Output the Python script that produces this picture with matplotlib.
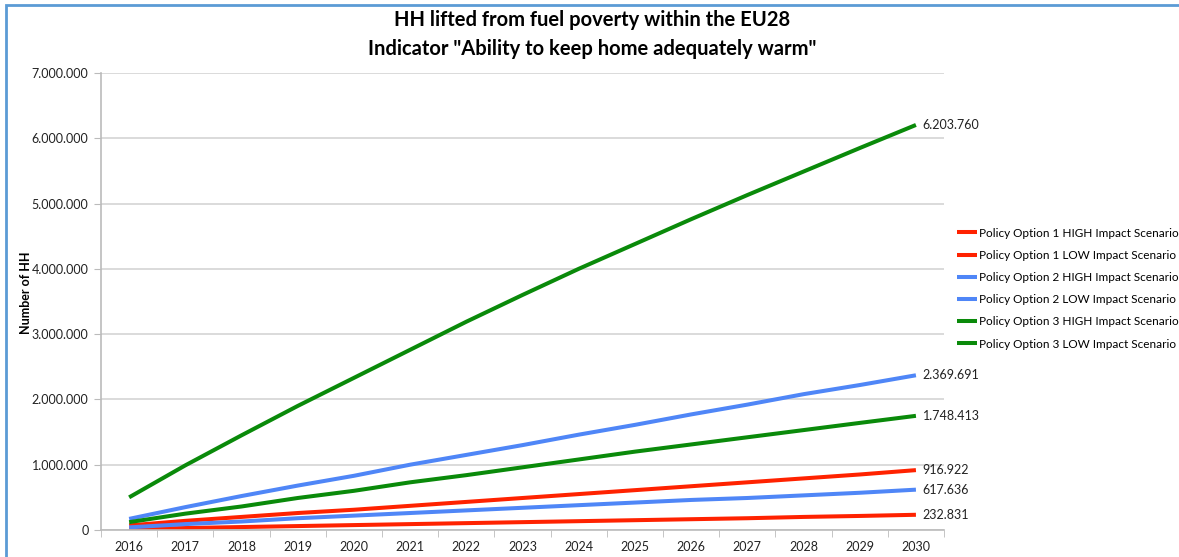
import matplotlib.pyplot as plt
from matplotlib.patches import Rectangle
from matplotlib.ticker import FuncFormatter, FixedLocator

plt.rcParams['font.family'] = ['Lato', 'DejaVu Sans']

years = list(range(2016, 2031))

# values in households
p1_high = [70000, 140000, 200000, 260000, 310000, 370000, 430000, 490000,
           550000, 610000, 670000, 730000, 790000, 850000, 916922]
p1_low = [15000, 30000, 45000, 60000, 75000, 90000, 105000, 120000,
          135000, 150000, 165000, 180000, 200000, 215000, 232831]
p2_high = [170000, 350000, 520000, 680000, 830000, 1000000, 1150000, 1300000,
           1460000, 1610000, 1770000, 1920000, 2080000, 2220000, 2369691]
p2_low = [40000, 90000, 130000, 180000, 220000, 260000, 300000, 340000,
          380000, 420000, 460000, 490000, 530000, 570000, 617636]
p3_high = [500000, 990000, 1450000, 1900000, 2330000, 2760000, 3190000, 3600000,
           4000000, 4380000, 4760000, 5130000, 5490000, 5850000, 6203760]
p3_low = [120000, 250000, 360000, 490000, 600000, 730000, 840000, 960000,
          1080000, 1200000, 1310000, 1420000, 1530000, 1640000, 1748413]

series = [
    ("Policy Option 1 HIGH Impact Scenario", p1_high, "#FF2200"),
    ("Policy Option 1 LOW Impact Scenario", p1_low, "#FF2200"),
    ("Policy Option 2 HIGH Impact Scenario", p2_high, "#4F86F7"),
    ("Policy Option 2 LOW Impact Scenario", p2_low, "#4F86F7"),
    ("Policy Option 3 HIGH Impact Scenario", p3_high, "#0A8A0A"),
    ("Policy Option 3 LOW Impact Scenario", p3_low, "#0A8A0A"),
]

fig = plt.figure(figsize=(11.79, 5.57), dpi=100)
ax = fig.add_axes([0.0857, 0.0485, 0.7150, 0.8205])

handles = []
for name, vals, col in series:
    h, = ax.plot(years, vals, color=col, lw=2.9, solid_capstyle='butt',
                 solid_joinstyle='round', label=name)
    handles.append(h)

# end labels
for name, vals, col in series:
    ax.text(years[-1] + 0.12, vals[-1], f"{vals[-1]:,}".replace(",", "."),
            ha='left', va='center', fontsize=9, color='#222222')

ax.set_xlim(2015.5, 2030.5)
ax.set_ylim(0, 7000000)
ax.yaxis.set_major_locator(FixedLocator(range(0, 7000001, 1000000)))
ax.yaxis.set_major_formatter(FuncFormatter(lambda v, p: f"{int(v):,}".replace(",", ".")))
ax.set_xticks(years)
ax.set_xticks([y - 0.5 for y in years] + [2030.5], minor=True)
ax.tick_params(axis='x', which='major', length=0, labelsize=9, pad=8)
ax.tick_params(axis='x', which='minor', length=5, color='#BBBBBB')
ax.tick_params(axis='y', length=5, color='#BBBBBB', labelsize=9, pad=4)
for lab in ax.get_xticklabels() + ax.get_yticklabels():
    lab.set_color('#222222')

ax.grid(axis='y', color='#D4D4D4', lw=1.2)
ax.set_axisbelow(True)
for s in ['top', 'right']:
    ax.spines[s].set_visible(False)
for s in ['left', 'bottom']:
    ax.spines[s].set_color('#BBBBBB')
    ax.spines[s].set_linewidth(1.2)

ax.set_ylabel("Number of HH", fontsize=9, fontweight='bold')
ax.yaxis.set_label_coords(-0.082, 0.52)

fig.text(0.502, 0.964, "HH lifted from fuel poverty within the EU28",
         ha='center', va='center', fontsize=14.5, fontweight='bold')
fig.text(0.502, 0.912, 'Indicator "Ability to keep home adequately warm"',
         ha='center', va='center', fontsize=14.5, fontweight='bold')

leg = fig.legend(handles=handles, loc='upper left', bbox_to_anchor=(0.808, 0.600),
                 frameon=False, fontsize=8.5, handlelength=1.7, handletextpad=0.15,
                 labelspacing=0.95, borderaxespad=0)

# chart frame
fig.patches.append(Rectangle((6 / 1179, -0.1), 1.2, 1 - 4.5 / 557 + 0.1,
                             transform=fig.transFigure, fill=False,
                             edgecolor='#5B9BD5', lw=2))

fig.savefig("out.png", dpi=100)
